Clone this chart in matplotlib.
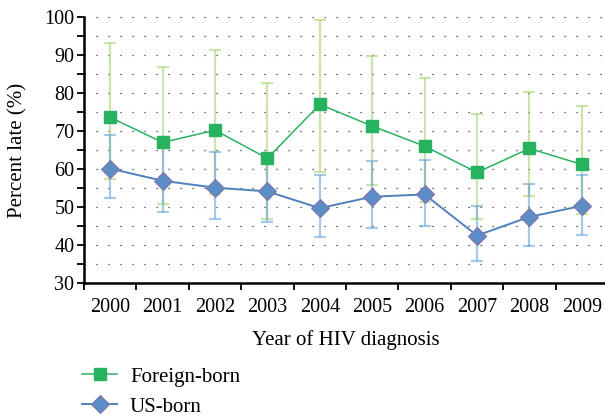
import matplotlib
matplotlib.use('Agg')
import matplotlib.pyplot as plt
import numpy as np

plt.rcParams['font.family'] = ['Liberation Serif', 'DejaVu Serif']

# ---- data ----
years = ['2000', '2001', '2002', '2003', '2004', '2005', '2006', '2007', '2008', '2009']
foreign = [73.6, 67.0, 70.2, 62.8, 77.0, 71.3, 66.0, 59.1, 65.4, 61.2]
foreign_lo = [57.5, 50.8, 53.4, 46.8, 59.1, 55.9, 51.3, 46.9, 52.8, 48.1]
foreign_hi = [93.1, 86.8, 91.2, 82.7, 99.2, 89.7, 83.9, 74.6, 80.3, 76.7]
us = [60.1, 56.9, 55.1, 54.1, 49.7, 52.7, 53.3, 42.5, 47.4, 50.3]
us_lo = [52.3, 48.6, 46.9, 46.1, 42.2, 44.6, 45.1, 35.8, 39.8, 42.7]
us_hi = [68.9, 66.0, 64.5, 61.5, 58.4, 62.0, 62.4, 50.3, 56.0, 58.4]

x = np.arange(len(years))
foreign = np.array(foreign)
us = np.array(us)
f_err = [foreign - np.array(foreign_lo), np.array(foreign_hi) - foreign]
u_err = [us - np.array(us_lo), np.array(us_hi) - us]

fig = plt.figure(figsize=(6.05, 4.16), dpi=100)
ax = fig.add_axes([84 / 605, 133 / 416, 524 / 605, 266 / 416])

# error bars (semi transparent so overlaps darken)
ax.errorbar(x, foreign, yerr=f_err, fmt='none', ecolor='#9fd066', alpha=0.55,
            elinewidth=1.6, capsize=4, capthick=1.6, zorder=2)
ax.errorbar(x, us, yerr=u_err, fmt='none', ecolor='#5f9fd8', alpha=0.55,
            elinewidth=1.6, capsize=4, capthick=1.6, zorder=3)

ax.plot(x, us, '-', color='#4f81bd', linewidth=1.4, marker='D', markersize=9,
        markerfacecolor='#5b8ec6', markeredgecolor='#8373a8', markeredgewidth=0.8,
        label='US-born', zorder=4)
ax.plot(x, foreign, '-', color='#2bb260', linewidth=1.1, marker='s', markersize=8,
        markerfacecolor='#27b260', markeredgecolor='#27b260',
        label='Foreign-born', zorder=5)

ax.set_xlim(-0.5, len(years) - 0.5)
ax.set_ylim(30, 100)

# x: labels at centres, tick marks at boundaries
ax.set_xticks(x)
ax.set_xticklabels(years, fontsize=14.5)
ax.tick_params(axis='x', which='major', length=0, pad=11)
ax.set_xticks(np.arange(-0.5, len(years), 1.0), minor=True)
ax.tick_params(axis='x', which='minor', length=5, width=1.3, direction='out')

ax.set_yticks(np.arange(30, 101, 10))
ax.set_yticks(np.arange(35, 100, 10), minor=True)
ax.tick_params(axis='y', which='both', length=5, width=1.3, direction='out', pad=2,
               labelsize=14.5)

# dotted grid every 5
for yy in np.arange(35, 101, 5):
    ax.axhline(yy, color='#333333', linewidth=0.9, linestyle=(0, (1, 8.6)), zorder=1)

for s in ['top', 'right']:
    ax.spines[s].set_visible(False)
for s in ['left', 'bottom']:
    ax.spines[s].set_linewidth(1.8)

ax.set_xlabel('Year of HIV diagnosis', fontsize=15, labelpad=9)
ax.set_ylabel('Percent late (%)', fontsize=15, labelpad=12)

h, l = ax.get_legend_handles_labels()
fig.legend(h[::-1], l[::-1], loc='upper left', bbox_to_anchor=(82 / 605, 1 - 367 / 416),
           frameon=False, fontsize=15, handlelength=1.7, handletextpad=0.6,
           labelspacing=0.5, borderpad=0, borderaxespad=0)

fig.savefig('out.png', dpi=100)
